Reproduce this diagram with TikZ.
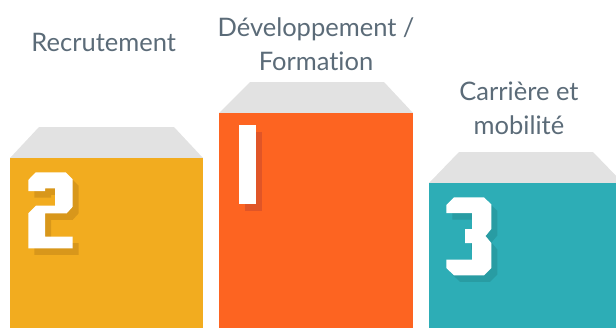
\documentclass[tikz,border=0pt]{standalone}
\usepackage{fontspec}
\setmainfont{Lato}[Ligatures=NoCommon]
\definecolor{lidgray}{HTML}{E2E2E2}
\definecolor{labelgray}{HTML}{5B6B78}
\definecolor{podyellow}{HTML}{F2AC1F}
\definecolor{podorange}{HTML}{FD6421}
\definecolor{podteal}{HTML}{2DADB6}
\definecolor{shadeyellow}{HTML}{D8971B}
\definecolor{shadeorange}{HTML}{E05527}
\definecolor{shadeteal}{HTML}{289CA3}
\begin{document}
\begin{tikzpicture}[x=1pt,y=-1pt,
  lid/.style={fill=lidgray},
  lbl/.style={text=labelgray, font=\fontsize{25.5}{34}\selectfont, align=center, inner sep=0pt, anchor=base}]
\useasboundingbox (0,0) rectangle (616,327);
\clip (0,0) rectangle (616,327);

% podium lids
\fill[lid] (10,158) -- (39,127) -- (174,127) -- (203,158) -- cycle;
\fill[lid] (219,113) -- (250,82) -- (384,82) -- (413,113) -- cycle;
\fill[lid] (429,183) -- (459,152) -- (593,152) -- (623,183) -- cycle;

% podium blocks
\fill[podyellow] (10,158) rectangle (203,330);
\fill[podorange] (219,113) rectangle (413,330);
\fill[podteal] (429,183) rectangle (623,330);

% number 2 with its drop shadow
\foreach \dx/\dy/\c in {6/6.5/shadeyellow, 0/0/white}{
  \fill[\c, shift={(\dx,\dy)}]
    (28.3,191) -- (28.3,180) -- (35.7,172.3) -- (65.7,172.3) -- (72.7,179.3)
    -- (72.7,206.7) -- (66.7,213.3) -- (45,213.3) -- (45,236.7) -- (72.7,236.7)
    -- (72.7,248.3) -- (28.3,248.3) -- (28.3,213.3) -- (36,205.7) -- (55,205.7)
    -- (55,188.3) -- (45,188.3) -- (45,191) -- cycle;
}

% number 1 with its drop shadow
\fill[shadeorange] (245,132) rectangle (262,211);
\fill[white] (239,125) rectangle (256,204);

% number 3 with its drop shadow
\foreach \dx/\dy/\c in {6/6.5/shadeteal, 0/0/white}{
  \fill[\c, shift={(\dx,\dy)}]
    (446.3,213) -- (446.3,205) -- (454,197.3) -- (484,197.3) -- (491.3,204.5)
    -- (491.3,229) -- (485.5,236) -- (491.3,243) -- (491.3,268) -- (484,275.3)
    -- (454,275.3) -- (446.3,268) -- (446.3,259.5) -- (472,259.5) -- (472,243)
    -- (465,243) -- (465,229) -- (472,229) -- (472,213) -- cycle;
}

% labels (multi-line nodes are anchored on their last baseline)
\node[lbl] (recrut) at (103.7,51) {Recrutement};
\node[lbl] (formation) at (316,70) {Développement /\\Formation};
\node[lbl] (carriere) at (519,134) {Carrière et\\mobilité};
\end{tikzpicture}
\end{document}
